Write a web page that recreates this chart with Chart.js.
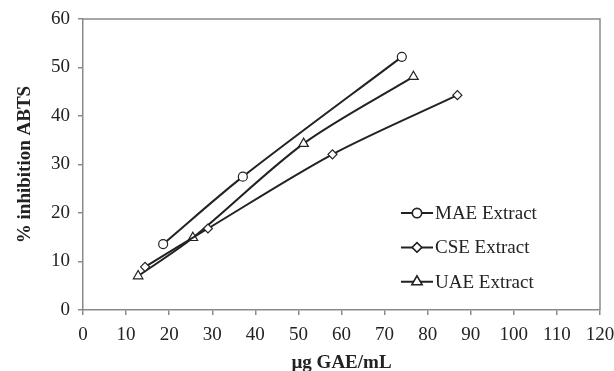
<!DOCTYPE html>
<html><head><meta charset="utf-8">
<script src="https://cdn.jsdelivr.net/npm/chart.js@4/dist/chart.umd.min.js"></script>
<style>html,body{margin:0;padding:0;background:#fff}#wrap{width:614px;height:371px}</style>
</head><body><div id="wrap"><canvas id="c" width="614" height="371"></canvas></div>
<script>
const seriesNames = ["MAE Extract", "CSE Extract", "UAE Extract"];
const maeX = [18.6, 37.1, 74.0];
const maeY = [13.6, 27.5, 52.2];
const cseX = [14.4, 29.0, 57.9, 86.9];
const cseY = [8.9, 16.8, 32.1, 44.3];
const uaeX = [12.8, 25.5, 51.2, 76.7];
const uaeY = [7.0, 14.9, 34.3, 48.1];
const xTitle = "µg GAE/mL";
const yTitle = "% inhibition ABTS";

const FONT = "'Liberation Serif', 'Times New Roman', serif";
const FS = 19;
const pts = (xs, ys) => xs.map((x, i) => ({x: x, y: ys[i]}));
const styles = [
  {pointStyle: 'circle', pointRadius: 4.5},
  {pointStyle: 'rectRot', pointRadius: 4.5},
  {pointStyle: 'triangle', pointRadius: 5.5}
];
const datas = [pts(maeX, maeY), pts(cseX, cseY), pts(uaeX, uaeY)];

const boxPlugin = {
  id: 'box',
  afterDraw(chart) {
    const ctx = chart.ctx, a = chart.chartArea;
    ctx.save();
    ctx.strokeStyle = '#8a8a8a';
    ctx.lineWidth = 1.5;
    ctx.beginPath();
    ctx.moveTo(a.left, a.top); ctx.lineTo(a.right, a.top); ctx.lineTo(a.right, a.bottom);
    ctx.stroke();
    const w = a.right - a.left, h = a.bottom - a.top;
    const lx0 = a.left + 0.615 * w, lx1 = a.left + 0.677 * w;
    const ys = [a.top + 0.667 * h, a.top + 0.785 * h, a.top + 0.903 * h];
    chart.data.datasets.forEach((ds, i) => {
      const y = ys[i];
      ctx.strokeStyle = '#222';
      ctx.lineWidth = 2;
      ctx.beginPath(); ctx.moveTo(lx0, y); ctx.lineTo(lx1, y); ctx.stroke();
      Chart.helpers.drawPoint(ctx, {pointStyle: ds.pointStyle, radius: ds.pointRadius, borderWidth: 1.2}, (lx0 + lx1) / 2, y);
      ctx.fillStyle = '#fff';
      ctx.fill();
      ctx.lineWidth = 1.2;
      ctx.stroke();
      ctx.fillStyle = '#222';
      ctx.font = FS + "px " + FONT;
      ctx.textBaseline = 'middle';
      ctx.textAlign = 'left';
      ctx.fillText(ds.label, lx1 + 2, y + 1);
    });
    ctx.restore();
  }
};

new Chart(document.getElementById('c'), {
  type: 'scatter',
  data: {
    datasets: datas.map((d, i) => ({
      label: seriesNames[i],
      data: d,
      showLine: true,
      tension: 0.3,
      borderColor: '#222',
      borderWidth: 2,
      backgroundColor: '#fff',
      pointBackgroundColor: '#fff',
      pointBorderColor: '#222',
      pointBorderWidth: 1.2,
      pointStyle: styles[i].pointStyle,
      pointRadius: styles[i].pointRadius
    }))
  },
  options: {
    responsive: false,
    animation: false,
    layout: {padding: {top: 19, right: 14, left: 0, bottom: 0}},
    plugins: {legend: {display: false}, tooltip: {enabled: false}},
    scales: {
      x: {
        type: 'linear', min: 0, max: 120,
        ticks: {stepSize: 10, color: '#222', font: {family: FONT, size: FS}, padding: 9},
        grid: {display: true, drawOnChartArea: false, drawTicks: true, tickLength: 5, color: '#8a8a8a', lineWidth: 1.5},
        border: {display: true, color: '#8a8a8a', width: 1.5},
        title: {display: true, text: xTitle, color: '#222', font: {family: FONT, size: FS, weight: 'bold'}, padding: {top: 6, bottom: -3}},
        afterFit(s) { s.height = 61; s.paddingRight = 0; s.paddingLeft = 0; }
      },
      y: {
        min: 0, max: 60,
        ticks: {stepSize: 10, color: '#222', font: {family: FONT, size: FS}, padding: 8},
        grid: {display: true, drawOnChartArea: false, drawTicks: true, tickLength: 5, color: '#8a8a8a', lineWidth: 1.5},
        border: {display: true, color: '#8a8a8a', width: 1.5},
        title: {display: true, text: yTitle, color: '#222', font: {family: FONT, size: FS, weight: 'bold'}, padding: {top: 14, bottom: 0}},
        afterFit(s) { s.width = 83; s.paddingTop = 0; s.paddingBottom = 0; }
      }
    }
  },
  plugins: [boxPlugin]
});
</script></body></html>
